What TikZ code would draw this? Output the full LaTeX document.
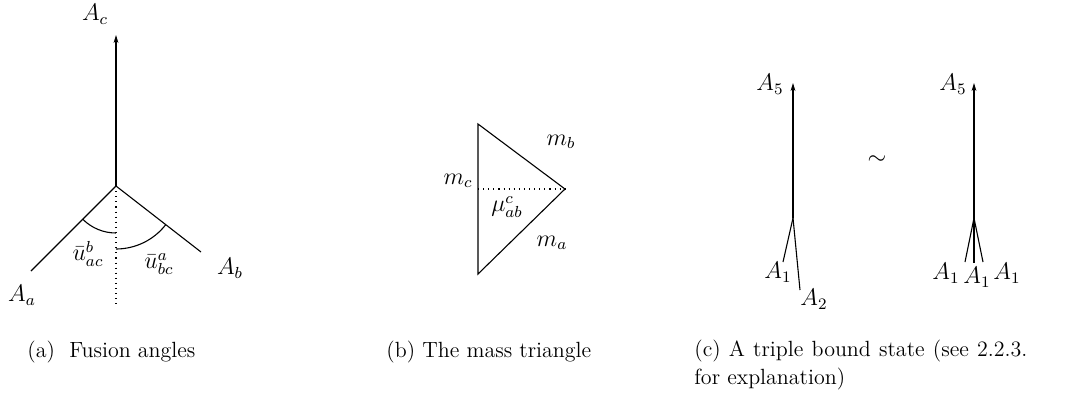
\documentclass[tikz,border=0pt]{standalone}
\usetikzlibrary{arrows.meta}
\begin{document}
\begin{tikzpicture}[x=0.5pt,y=-0.5pt,
  every node/.style={inner sep=0pt,font=\fontsize{12}{14.5}\selectfont},
  ln/.style={line width=0.55pt},
  arr/.style={ln,-{Stealth[length=4pt,width=2.4pt]}},
  dotln/.style={line width=0.55pt,dotted},
  captxt/.style={anchor=base west,align=left,font=\fontsize{11}{13.6}\selectfont}]
\useasboundingbox (0,0) rectangle (1071,398);
% ---------- (a) ----------
\coordinate (V) at (116,186);
\coordinate (Ctop) at (116,35);
\coordinate (Aend) at (31,271);
\coordinate (Bend) at (201,252);
\coordinate (Dend) at (116,305);
\draw[arr] (V) -- (Ctop);
\draw[ln] (V) -- (Aend);
\draw[ln] (V) -- (Bend);
\draw[dotln] (V) -- (Dend);
\draw[ln] (V) ++(135:47) arc[start angle=135,end angle=90,radius=47];
\draw[ln] (V) ++(90:63) arc[start angle=90,end angle=38,radius=63];
\node (Ac) at (95,14) {$A_c$};
\node (Aa) at (22,295) {$A_a$};
\node (Ab) at (230,268) {$A_b$};
\node (uac) at (88,254) {$\bar u^b_{ac}$};
\node (ubc) at (159,264) {$\bar u^a_{bc}$};
% ---------- (b) ----------
\coordinate (T1) at (478,124);
\coordinate (T2) at (478,274);
\coordinate (T3) at (565,189);
\coordinate (Tm) at (478,189);
\draw[ln] (T1) -- (T2) -- (T3) -- cycle;
\draw[dotln] (Tm) -- (T3);
\node (mc) at (458,181) {$m_c$};
\node (mb) at (561,142) {$m_b$};
\node (mu) at (507,207) {$\mu^c_{ab}$};
\node (ma) at (552,243) {$m_a$};
% ---------- (c) ----------
\coordinate (L0) at (793,218);
\coordinate (Ltop) at (793,83);
\coordinate (L1) at (783,262);
\coordinate (L2) at (800,290);
\draw[arr] (L0) -- (Ltop);
\draw[ln] (L0) -- (L1);
\draw[ln] (L0) -- (L2);
\node (LA5) at (770,84) {$A_5$};
\node (LA1) at (778,272) {$A_1$};
\node (LA2) at (814,299) {$A_2$};
\node (sim) at (877,160) {$\sim$};
\coordinate (R0) at (974,218);
\coordinate (Rtop) at (974,83);
\coordinate (R1) at (965,262);
\coordinate (R2) at (974,263);
\coordinate (R3) at (983,262);
\draw[arr] (R0) -- (Rtop);
\draw[ln] (R0) -- (R1);
\draw[ln] (R0) -- (R2);
\draw[ln] (R0) -- (R3);
\node (RA5) at (953,84) {$A_5$};
\node (RA1a) at (946,273) {$A_1$};
\node (RA1b) at (977,277) {$A_1$};
\node (RA1c) at (1007,273) {$A_1$};
% ---------- captions ----------
\node[captxt] (capa) at (27,357) {(a)\ \ Fusion angles};
\node[captxt] (capb) at (386,357) {(b) The mass triangle};
\node[captxt] (capc) at (694,384)
  {\makebox[166.5pt][s]{(c) A triple bound state (see 2.2.3.}\\for explanation)};
\end{tikzpicture}
\end{document}
